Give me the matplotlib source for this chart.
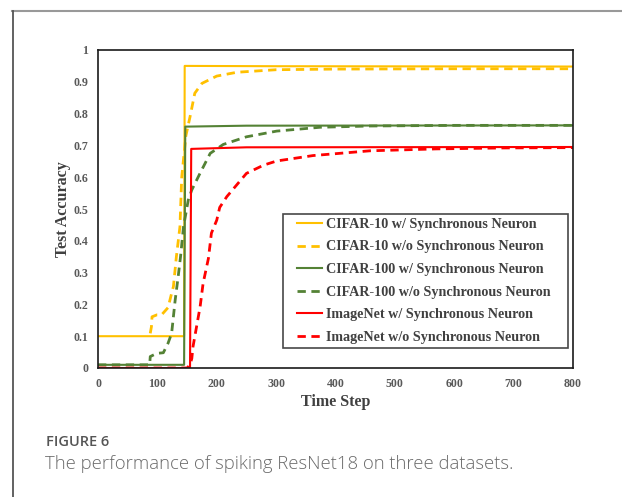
import matplotlib
matplotlib.use("Agg")
import numpy as np
import matplotlib.pyplot as plt
from matplotlib.lines import Line2D
from matplotlib.legend_handler import HandlerLine2D

# CIFAR-10
c10_t = [0, 145, 146, 300, 800]
c10_acc = [0.1, 0.1, 0.95, 0.949, 0.948]
c10o_t = [88, 90, 91, 99, 107, 118, 124, 127, 132, 138, 141, 148, 155, 163, 175, 200, 234, 300, 400, 600, 800]
c10o_acc = [0.109, 0.13, 0.161, 0.167, 0.167, 0.19, 0.235, 0.256, 0.35, 0.444, 0.6, 0.73, 0.79, 0.864, 0.895, 0.918, 0.93, 0.938, 0.94, 0.941, 0.941]

# CIFAR-100
c100_t = [0, 145, 147, 250, 800]
c100_acc = [0.01, 0.01, 0.759, 0.762, 0.763]
c100o_t = [0, 87, 88, 99, 110, 118, 124, 130, 135, 139, 144, 152, 158, 172, 189, 211, 250, 301, 374, 458, 600, 800]
c100o_acc = [0.01, 0.01, 0.036, 0.046, 0.048, 0.078, 0.109, 0.214, 0.287, 0.35, 0.444, 0.528, 0.56, 0.613, 0.675, 0.703, 0.727, 0.745, 0.757, 0.761, 0.763, 0.763]

# ImageNet
img_t = [0, 155, 157, 250, 800]
img_acc = [0.0, 0.0, 0.689, 0.694, 0.695]
imgo_t = [0, 150, 155, 158, 160, 166, 172, 177, 186, 191, 200, 205, 217, 231, 250, 279, 301, 362, 458, 570, 682, 800]
imgo_acc = [0.0, 0.0, 0.01, 0.03, 0.067, 0.13, 0.193, 0.266, 0.345, 0.424, 0.465, 0.505, 0.539, 0.57, 0.612, 0.638, 0.651, 0.668, 0.683, 0.689, 0.692, 0.693]

labels = ["CIFAR-10 w/ Synchronous Neuron", "CIFAR-10 w/o Synchronous Neuron",
          "CIFAR-100 w/ Synchronous Neuron", "CIFAR-100 w/o Synchronous Neuron",
          "ImageNet w/ Synchronous Neuron", "ImageNet w/o Synchronous Neuron"]

gold = "#FFC000"
green = "#548235"
red = "#FF0000"
dash = (0, (3, 2))

serif = "Liberation Serif"


class ShortLine(HandlerLine2D):
    # legend line only covers the right part of the handle box
    def create_artists(self, legend, orig_handle, xdescent, ydescent, width, height, fontsize, trans):
        arts = super().create_artists(legend, orig_handle, xdescent, ydescent, width, height, fontsize, trans)
        for a in arts:
            x = np.asarray(a.get_xdata(), dtype=float)
            if len(x) >= 2:
                a.set_xdata(np.linspace(x[0] + 7.0, x[-1], len(x)))
        return arts


fig = plt.figure(figsize=(6.22, 4.97), dpi=100)
ax = fig.add_axes([98 / 622, 1 - 368 / 497, 475 / 622, 318 / 497])

ax.plot(c10_t, c10_acc, color=gold, lw=1.5, label=labels[0])
ax.plot(c10o_t, c10o_acc, color=gold, lw=2.0, ls=dash, label=labels[1])
ax.plot(c100_t, c100_acc, color=green, lw=1.5, label=labels[2])
ax.plot(c100o_t, c100o_acc, color=green, lw=2.0, ls=dash, label=labels[3])
ax.plot(img_t, img_acc, color=red, lw=1.5, label=labels[4])
ax.plot(imgo_t, imgo_acc, color=red, lw=2.0, ls=dash, label=labels[5])

ax.set_xlim(0, 800)
ax.set_ylim(0, 1)
ax.set_xticks(range(0, 801, 100))
ax.set_yticks([i / 10 for i in range(11)])
ax.set_yticklabels(["0", "0.1", "0.2", "0.3", "0.4", "0.5", "0.6", "0.7", "0.8", "0.9", "1"])
ax.tick_params(length=0, labelsize=8.6, labelcolor="#595959", pad=7)
for lab in ax.get_xticklabels() + ax.get_yticklabels():
    lab.set_fontfamily(serif)
    lab.set_fontweight("bold")
for sp in ax.spines.values():
    sp.set_color("#1a1a1a")
    sp.set_linewidth(1.2)

ax.set_xlabel("Time Step", family=serif, weight="bold", fontsize=11.5, color="#404040", labelpad=3)
ax.set_ylabel("Test Accuracy", family=serif, weight="bold", fontsize=11.5, color="#404040", labelpad=2)

leg = ax.legend(loc="lower left", bbox_to_anchor=(0.3895, 0.063, 0.6, 0.4), mode="expand",
                borderaxespad=0, frameon=True, fancybox=False,
                handlelength=2.5, handletextpad=0.28, labelspacing=0.68, borderpad=0.28,
                handler_map={Line2D: ShortLine()},
                prop={"family": serif, "weight": "bold", "size": 10.2})
leg.get_frame().set_edgecolor("#1a1a1a")
leg.get_frame().set_linewidth(1.2)
for t in leg.get_texts():
    t.set_color("#404040")

# outer frame of the figure panel
fig.add_artist(Line2D([12 / 622, 1], [1 - 11 / 497, 1 - 11 / 497], color="#999999", lw=1.5))
fig.add_artist(Line2D([12.5 / 622, 12.5 / 622], [0, 1 - 11 / 497], color="#555555", lw=1.3))

fig.text(46 / 622, 1 - 446 / 497, "FIGURE 6", family="Open Sans", weight="semibold",
         fontsize=10.5, color="#555555", va="baseline")
fig.text(45 / 622, 1 - 469 / 497, "The performance of spiking ResNet18 on three datasets.",
         family="Open Sans", weight="light", fontsize=13.3, color="#6a6a6a", va="baseline")

fig.savefig("out.png", dpi=100)
